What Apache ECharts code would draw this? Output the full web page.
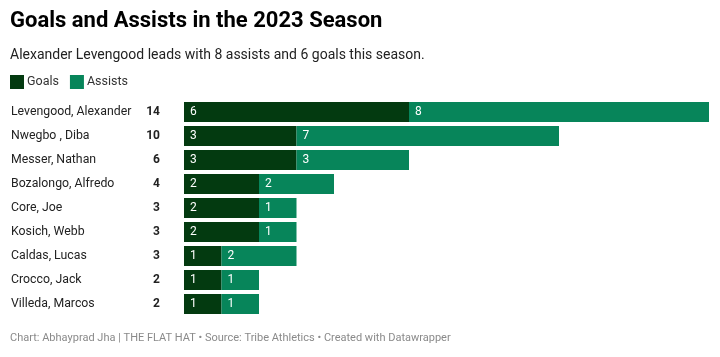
<!DOCTYPE html>
<html><head><meta charset="utf-8">
<script src="https://cdn.jsdelivr.net/npm/echarts@6/dist/echarts.min.js"></script>
<style>html,body{margin:0;padding:0;background:#fff}#c{width:720px;height:357px}</style>
</head><body><div id="c"></div>
<script>
const players = ["Levengood, Alexander","Nwegbo , Diba","Messer, Nathan","Bozalongo, Alfredo","Core, Joe","Kosich, Webb","Caldas, Lucas","Crocco, Jack","Villeda, Marcos"];
const goals = [6,3,3,2,2,2,1,1,1];
const assists = [8,7,3,2,1,1,2,1,1];
const totals = players.map((p,i)=>goals[i]+assists[i]);
const titleText = "Goals and Assists in the 2023 Season";
const subtitleText = "Alexander Levengood leads with 8 assists and 6 goals this season.";
const footerText = "Chart: Abhayprad Jha | THE FLAT HAT • Source: Tribe Athletics • Created with Datawrapper";

const FONT = "Roboto, sans-serif";
const chart = echarts.init(document.getElementById('c'), null, {renderer:'canvas'});
chart.setOption({
  animation:false,
  textStyle:{fontFamily:FONT},
  title:[
    {text:titleText,left:10,top:10,padding:0,textStyle:{fontFamily:FONT,fontSize:22,fontWeight:'bold',color:'#000'}},
    {text:subtitleText,left:10,top:48,padding:0,textStyle:{fontFamily:FONT,fontSize:14,fontWeight:'normal',color:'#222'}},
    {text:footerText,left:10,top:333,padding:0,textStyle:{fontFamily:FONT,fontSize:11,fontWeight:'normal',color:'#8a8a8a'}}
  ],
  legend:{left:10,top:75,padding:0,icon:'rect',itemWidth:14,itemHeight:14,itemGap:11,
    textStyle:{fontFamily:FONT,fontSize:12.5,color:'#333',padding:[0,0,0,-2]},data:['Goals','Assists']},
  grid:{left:184,right:11,top:100,bottom:41},
  xAxis:{type:'value',min:0,max:14,show:false},
  yAxis:[
    {type:'category',data:players,inverse:true,axisLine:{show:false},axisTick:{show:false},
     axisLabel:{align:'left',margin:173,fontFamily:FONT,fontSize:12.3,color:'#222'}},
    {type:'category',data:totals,inverse:true,position:'left',axisLine:{show:false},axisTick:{show:false},
     axisLabel:{align:'right',margin:24,fontFamily:FONT,fontSize:12,fontWeight:'bold',color:'#222'}}
  ],
  series:[
    {name:'Goals',type:'bar',stack:'a',data:goals,barCategoryGap:'17%',itemStyle:{color:'#033a10'},
     label:{show:true,position:'insideLeft',distance:6,color:'#fff',fontFamily:FONT,fontSize:12}},
    {name:'Assists',type:'bar',stack:'a',data:assists,barCategoryGap:'17%',itemStyle:{color:'#07855a'},
     label:{show:true,position:'insideLeft',distance:6,color:'#fff',fontFamily:FONT,fontSize:12}}
  ]
});
</script></body></html>
